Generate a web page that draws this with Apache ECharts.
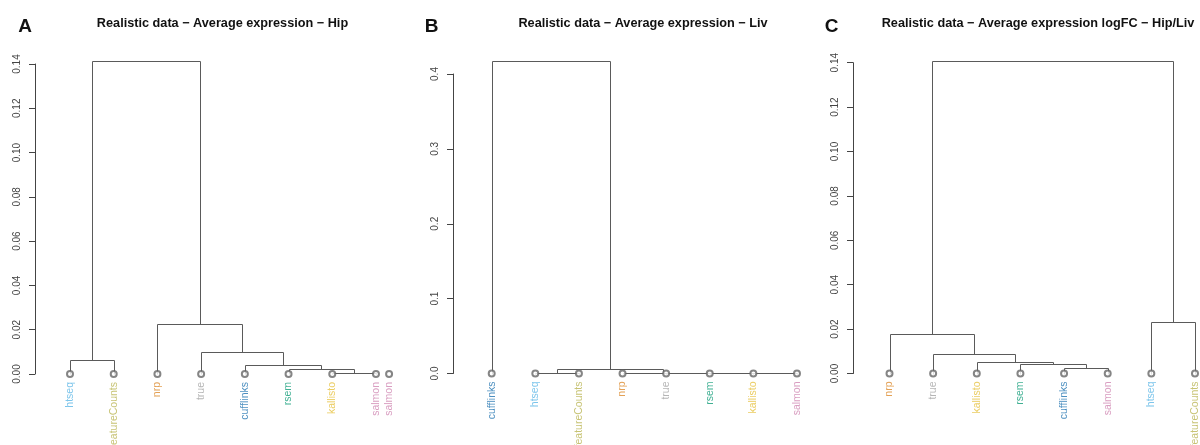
<!DOCTYPE html>
<html><head><meta charset="utf-8">
<script src="https://cdn.jsdelivr.net/npm/echarts@6/dist/echarts.min.js"></script>
<style>html,body{margin:0;padding:0;background:#fff}#c{width:1200px;height:445px}</style>
</head><body><div id="c"></div>
<script>
// ---------- Data ----------
const titles = ['Realistic data \u2212 Average expression \u2212 Hip',
                'Realistic data \u2212 Average expression \u2212 Liv',
                'Realistic data \u2212 Average expression logFC \u2212 Hip/Liv'];
const panelLetters = ['A', 'B', 'C'];

// Panel A (leaf order left to right); merges in R hclust style (negative = leaf, positive = earlier merge)
const leavesA = ['htseq','featureCounts','nrp','true','cufflinks','rsem','kallisto','salmon'];
const mergeA = [[-1,-2],[-7,-8],[-6,2],[-5,3],[-4,4],[-3,5],[1,6]];
const heightsA = [0.0065, 0.0006, 0.0021, 0.0041, 0.0101, 0.0225, 0.1415];
const extraLeafNameA = ['salmon'];
const extraLeafPosA = [8.3];
const ticksA = [0, 0.02, 0.04, 0.06, 0.08, 0.10, 0.12, 0.14];

// Panel B
const leavesB = ['cufflinks','htseq','featureCounts','nrp','true','rsem','kallisto','salmon'];
const mergeB = [[-7,-8],[-6,1],[-5,2],[-2,-3],[-4,3],[4,5],[-1,6]];
const heightsB = [0.0001, 0.0002, 0.0003, 0.0006, 0.0005, 0.0055, 0.418];
const ticksB = [0, 0.1, 0.2, 0.3, 0.4];

// Panel C
const leavesC = ['nrp','true','kallisto','rsem','cufflinks','salmon','htseq','featureCounts'];
const mergeC = [[-5,-6],[-4,1],[-3,2],[-2,3],[-1,4],[-7,-8],[5,6]];
const heightsC = [0.0025, 0.0042, 0.0052, 0.0086, 0.018, 0.0233, 0.1408];
const ticksC = [0, 0.02, 0.04, 0.06, 0.08, 0.10, 0.12, 0.14];

const leafColors = {
  htseq: '#5cb6e6', featureCounts: '#b9b451', nrp: '#dc8a2c', true: '#a3a3a3',
  cufflinks: '#1f73b0', rsem: '#109c78', kallisto: '#e6c13c', salmon: '#cf86b2'
};

// ---------- Layout (pixels) ----------
const FONT = "'Liberation Sans', Arial, Helvetica, sans-serif";
const panels = [
  {leaves: leavesA, merge: mergeA, heights: heightsA, ticks: ticksA, dec: 2,
   axisX: 35, leaf1: 70, step: 43.71, top: 64, height: 310, titleX: 222.5, letterX: 25,
   extraNames: extraLeafNameA, extraPos: extraLeafPosA},
  {leaves: leavesB, merge: mergeB, heights: heightsB, ticks: ticksB, dec: 1,
   axisX: 453, leaf1: 491.7, step: 43.61, top: 74, height: 299.5, titleX: 643, letterX: 431.5,
   extraNames: [], extraPos: []},
  {leaves: leavesC, merge: mergeC, heights: heightsC, ticks: ticksC, dec: 2,
   axisX: 853, leaf1: 889.5, step: 43.64, top: 62.7, height: 310.8, titleX: 1038, letterX: 831.5,
   extraNames: [], extraPos: []}
];

function buildSegments(merge, heights) {
  const pos = [], hgt = [];
  const segs = [];
  function info(ref) {
    if (ref < 0) return [-ref, 0];
    return [pos[ref - 1], hgt[ref - 1]];
  }
  merge.forEach((m, i) => {
    const a = info(m[0]), b = info(m[1]);
    const h = heights[i];
    pos.push((a[0] + b[0]) / 2);
    hgt.push(h);
    segs.push([a[0], a[1], b[0], b[1], h]);
  });
  return segs;
}

const grids = [], xAxes = [], yAxes = [], series = [], graphics = [];
panels.forEach((p, k) => {
  const n = p.leaves.length;
  const xMin = 1 - (p.leaf1 - p.axisX) / p.step;
  const xMax = n + 0.1;
  grids.push({left: p.axisX, top: p.top, height: p.height, width: (xMax - xMin) * p.step});
  xAxes.push({gridIndex: k, type: 'value', min: xMin, max: xMax, show: false});
  const tks = p.ticks;
  yAxes.push({
    gridIndex: k, type: 'value', min: tks[0], max: tks[tks.length - 1],
    interval: tks[1] - tks[0],
    axisLine: {show: true, lineStyle: {color: '#444', width: 1}},
    axisTick: {show: true, length: 6, lineStyle: {color: '#444'}},
    splitLine: {show: false},
    axisLabel: {rotate: 90, margin: 13, fontSize: 10, color: '#444', fontFamily: FONT,
      formatter: v => v.toFixed(p.dec)}
  });
  const segs = buildSegments(p.merge, p.heights);
  series.push({
    type: 'custom', xAxisIndex: k, yAxisIndex: k, clip: false, silent: true,
    data: segs,
    encode: {x: [0, 2], y: [1, 3, 4]},
    renderItem: function (params, api) {
      const xl = api.value(0), hl = api.value(1), xr = api.value(2), hr = api.value(3), h = api.value(4);
      const pts = [api.coord([xl, hl]), api.coord([xl, h]), api.coord([xr, h]), api.coord([xr, hr])]
        .map(c => [Math.round(c[0]) + 0.5, Math.round(c[1]) + 0.5]);
      return {type: 'polyline', shape: {points: pts},
        style: {stroke: '#5a5a5a', fill: null, lineWidth: 1}};
    }
  });
  const leafData = p.leaves.map((nm, i) => ({
    value: [i + 1, 0], name: nm, label: {color: leafColors[nm]}
  }));
  p.extraNames.forEach((nm, i) => leafData.push({value: [p.extraPos[i], 0], name: nm, label: {color: leafColors[nm]}}));
  series.push({
    type: 'scatter', xAxisIndex: k, yAxisIndex: k, clip: false, silent: true,
    symbol: 'emptyCircle', symbolSize: 6,
    itemStyle: {color: '#666', borderWidth: 0.8},
    data: leafData,
    label: {show: true, position: 'bottom', distance: 4, rotate: 90, align: 'right',
      verticalAlign: 'middle', fontSize: 10.5, fontFamily: FONT, formatter: '{b}'}
  });
  graphics.push({type: 'text', x: p.titleX, y: 23,
    style: {text: titles[k], font: 'bold 12.7px ' + FONT, fill: '#111', textAlign: 'center', textVerticalAlign: 'middle'}});
  graphics.push({type: 'text', x: p.letterX, y: 27,
    style: {text: panelLetters[k], font: 'bold 19px ' + FONT, fill: '#111', textAlign: 'center', textVerticalAlign: 'middle'}});
});

const chart = echarts.init(document.getElementById('c'), null, {renderer: 'canvas'});
chart.setOption({
  animation: false,
  backgroundColor: '#fff',
  grid: grids, xAxis: xAxes, yAxis: yAxes, series: series, graphic: graphics
});
</script>
</body></html>
